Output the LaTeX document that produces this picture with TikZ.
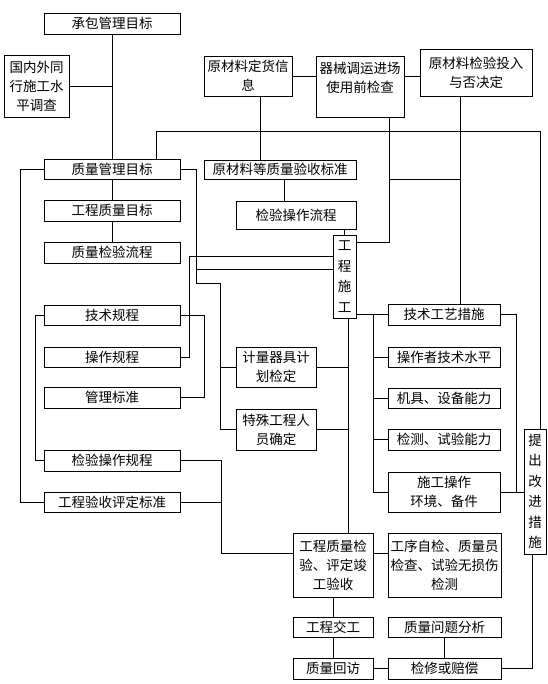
\documentclass[tikz,border=0pt]{standalone}
\usepackage{fontspec}
\setmainfont{Noto Sans CJK SC}

\begin{document}
\begin{tikzpicture}[
        x=1pt, y=-1pt,
        line width=0.9pt,
        box/.style={
            draw,
            inner sep=0pt,
            align=center,
            font=\fontsize{13.5}{19}\selectfont
        },
        vbox/.style={
            box,
            font=\fontsize{13.5}{20.5}\selectfont
        }
    ]
        \useasboundingbox[fill=white] (0,0) rectangle (547,684);

        % upper row
        \node[box, minimum width=136pt, minimum height=21pt] (cbmb) at (112,23.5) {承包管理目标};
        \node[box, minimum width=65pt, minimum height=62pt] (dcjk) at (36.5,86) {国内外同\\行施工水\\平调查};
        \node[box, minimum width=88pt, minimum height=40pt] (dhxx) at (248,76) {原材料定货信\\息};
        \node[box, minimum width=88pt, minimum height=61pt] (qxjc) at (360,86.5) {器械调运进场\\使用前检查\\\mbox{}};
        \node[box, minimum width=112pt, minimum height=47pt] (jyjd) at (476,72.5) {原材料检验投入\\与否决定};

        % left column
        \node[box, minimum width=136pt, minimum height=20pt] (zlmb) at (112,169) {质量管理目标};
        \node[box, minimum width=136pt, minimum height=21pt] (gcmb) at (112,210.5) {工程质量目标};
        \node[box, minimum width=136pt, minimum height=21pt] (jylc) at (112,252.5) {质量检验流程};
        \node[box, minimum width=136pt, minimum height=20pt] (jsgc) at (112,315) {技术规程};
        \node[box, minimum width=136pt, minimum height=20pt] (czgc) at (112,357) {操作规程};
        \node[box, minimum width=136pt, minimum height=21pt] (glbz) at (112,397.5) {管理标准};
        \node[box, minimum width=136pt, minimum height=21pt] (jygc) at (112,460.5) {检验操作规程};
        \node[box, minimum width=136pt, minimum height=20pt] (pdbz) at (112,502) {工程验收评定标准};

        % middle column
        \node[box, minimum width=152pt, minimum height=19pt] (ysbz) at (280,169.5) {原材料等质量验收标准};
        \node[box, minimum width=120pt, minimum height=28pt] (czlc) at (296,215) {检验操作流程};
        \node[vbox, minimum width=23pt, minimum height=83pt] (sg) at (344.5,276.5) {工\\程\\施\\工};
        \node[box, minimum width=80pt, minimum height=40pt] (jljd) at (276,367) {计量器具计\\划检定};
        \node[box, minimum width=80pt, minimum height=41pt] (tsry) at (276,429.5) {特殊工程人\\员确定};

        % right column
        \node[box, minimum width=112pt, minimum height=21pt] (gycs) at (444,314.5) {技术工艺措施};
        \node[box, minimum width=112pt, minimum height=20pt] (jssp) at (444,357) {操作者技术水平};
        \node[box, minimum width=112pt, minimum height=20pt] (sbnl) at (444,398) {机具、设备能力};
        \node[box, minimum width=112pt, minimum height=21pt] (synl) at (444,439.5) {检测、试验能力};
        \node[box, minimum width=112pt, minimum height=40pt] (hjbj) at (444,492) {施工操作\\环境、备件};
        \node[vbox, minimum width=22pt, minimum height=125pt] (gjcs) at (535,491.5) {提\\出\\改\\进\\措\\施};

        % bottom rows
        \node[box, minimum width=80pt, minimum height=64pt] (ysjs) at (333,565) {工程质量检\\验、评定竣\\工验收};
        \node[box, minimum width=113pt, minimum height=64pt] (zjjc) at (444.5,565) {工序自检、质量员\\检查、试验无损伤\\检测};
        \node[box, minimum width=80pt, minimum height=20pt] (jg) at (333,627) {工程交工};
        \node[box, minimum width=113pt, minimum height=20pt] (wtfx) at (444.5,627) {质量问题分析};
        \node[box, minimum width=80pt, minimum height=21pt] (hf) at (333,668.5) {质量回访};
        \node[box, minimum width=113pt, minimum height=21pt] (jxpc) at (444.5,668.5) {检修或赔偿};

        % junctions
        \coordinate (rt) at (540,131);
        \coordinate (j1) at (389,242);
        \coordinate (j2) at (389,179);
        \coordinate (j3) at (460,179);
        \coordinate (m0) at (196,269);
        \coordinate (m1) at (196,283);
        \coordinate (m2) at (220,283);
        \coordinate (n1) at (189,256);
        \coordinate (p1) at (221,553);
        \coordinate (q0) at (348,318);
        \coordinate (r0) at (373,314.5);

        \draw (cbmb) -- (zlmb);
        \draw (dcjk.east) -- (dcjk.east -| cbmb);
        \draw (zlmb) -- (gcmb);
        \draw (gcmb) -- (jylc);
        \draw (dhxx.east) -- (dhxx.east -| qxjc.west);
        \draw (dhxx.east -| qxjc.east) -- (dhxx.east -| jyjd.west);
        \draw ([xshift=12pt]dhxx.south) -- ([xshift=-20pt]ysbz.north);
        \draw ([xshift=44pt]zlmb.north) |- (rt) -- (rt |- gjcs.north);
        \draw ([xshift=-16pt]jyjd.south) -- ([xshift=16pt]gycs.north);
        \draw (qxjc.south -| j1) -- (j1) -- (j1 -| sg.east);
        \draw (j2) -- (j3);
        \draw ([xshift=4pt]ysbz.south) -- ([xshift=-12pt]czlc.north);
        \draw (sg.north) -- (sg.north |- czlc.south);

        \draw (zlmb.west) -- ++(-23,0) |- (pdbz.west);
        \draw (zlmb.east) -| (m1) -- (m2) |- (tsry.west);
        \draw (m0) -- (m0 -| sg.west);
        \draw (m2 |- jljd.west) -- (jljd.west);
        \draw (czgc.east) -| (n1) -- (n1 -| sg.west);
        \draw (jsgc.east) -- ++(24,0) |- (glbz.east);
        \draw (jsgc.west) -- ++(-8,0) |- (jygc.west);
        \draw (jygc.east) -| (p1) -- (p1 -| ysjs.west);
        \draw (pdbz.east) -- (pdbz.east -| p1);

        \draw (q0) -- (q0 |- ysjs.north);
        \draw (jljd.east) -- (jljd.east -| q0);
        \draw (tsry.east) -- (tsry.east -| q0);

        \draw (sg.east |- gycs.west) -- (gycs.west);
        \draw (r0) |- (hjbj.west);
        \foreach \b in {jssp, sbnl, synl}
            \draw (r0 |- \b.west) -- (\b.west);
        \draw (gycs.east) -- ++(16,0) |- (hjbj.east);
        \draw (hjbj.east) -- (gjcs.west |- hjbj.east);

        \draw (p1 -| ysjs.east) -- (p1 -| zjjc.west);
        \draw (ysjs) -- (jg);
        \draw (jg) -- (hf);
        \draw (hf) -- (jxpc);
        \draw (wtfx) -- (jxpc);
        \draw (jxpc.east) -| ([xshift=-3pt]gjcs.south);
    \end{tikzpicture}
\end{document}
